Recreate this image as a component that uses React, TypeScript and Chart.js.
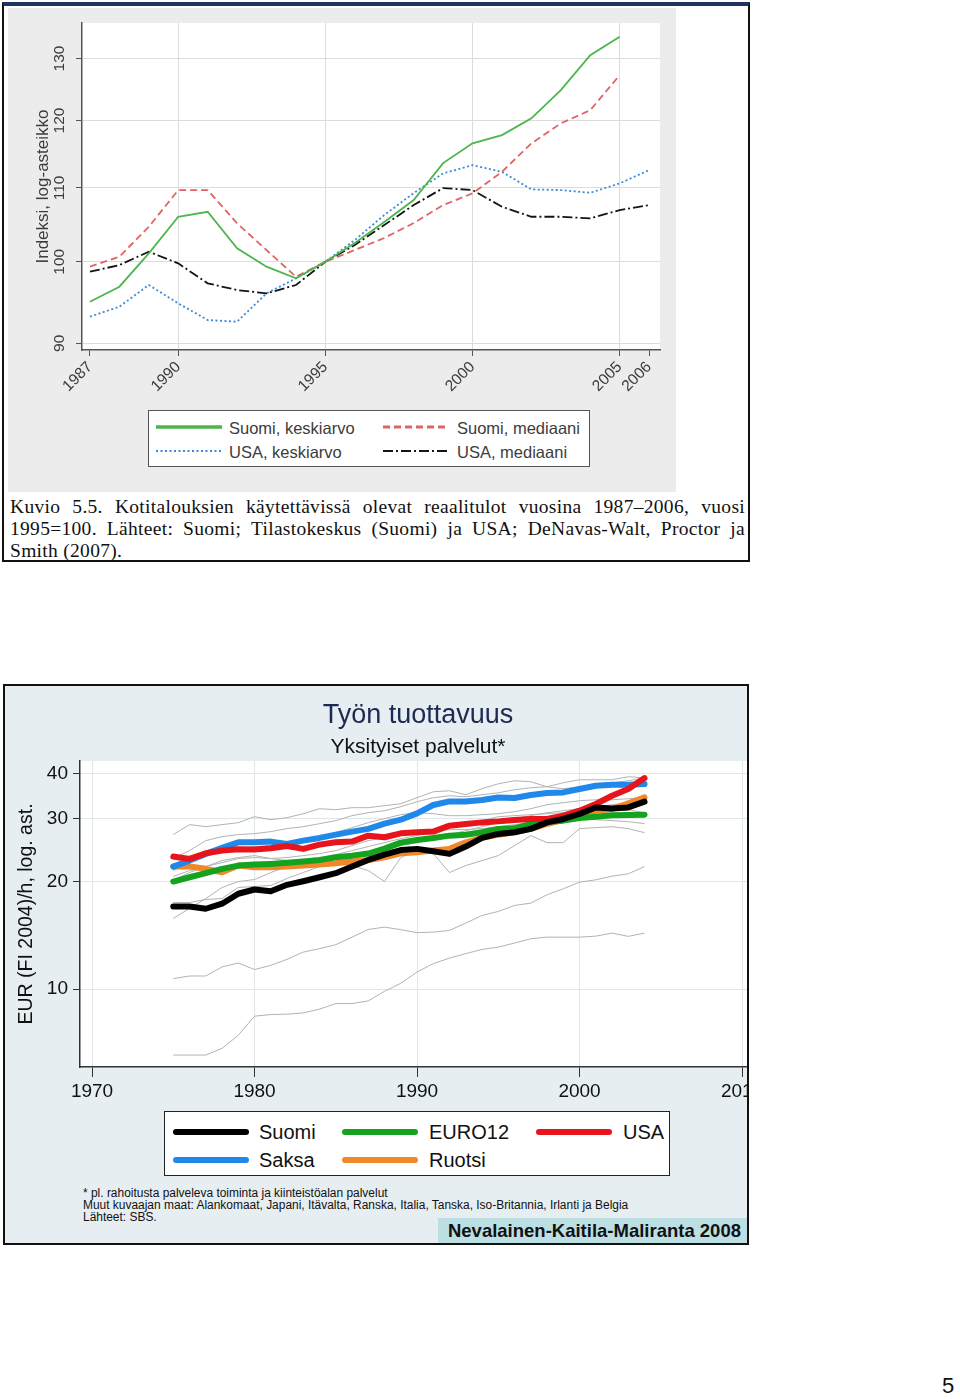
import React, { useEffect, useRef } from 'react';
import { Chart, registerables } from 'chart.js';

Chart.register(...registerables);

const SANS = "'Liberation Sans', Arial, Helvetica, sans-serif";
const SERIF = "'Liberation Serif', 'Times New Roman', Times, serif";
Chart.defaults.font.family = SANS;

/* ---------- Upper chart: Kuvio 5.5 ---------- */
const topYears = [1987, 1988, 1989, 1990, 1991, 1992, 1993, 1994, 1995, 1996, 1997, 1998, 1999, 2000, 2001, 2002, 2003, 2004, 2005, 2006];
const suomiKeskiarvo = [94.97, 96.83, 101.09, 105.98, 106.66, 101.74, 99.36, 97.88, 100, 102.44, 105.26, 108.29, 113.58, 116.51, 117.76, 120.33, 124.8, 130.57, 133.69];
const suomiMediaani = [99.36, 100.65, 104.62, 109.69, 109.69, 105.08, 101.52, 98.08, 100, 101.52, 103.11, 105.12, 107.59, 109.23, 112.31, 116.51, 119.55, 121.62, 127.24];
const usaKeskiarvo = [93.15, 94.36, 97.04, 94.77, 92.75, 92.55, 96.0, 97.88, 100, 102.84, 106.21, 109.27, 112.08, 113.29, 112.31, 109.79, 109.69, 109.31, 110.65, 112.56];
const usaMediaani = [98.72, 99.57, 101.3, 99.79, 97.25, 96.41, 96.0, 97.04, 100, 102.18, 104.85, 107.59, 109.98, 109.69, 107.36, 105.98, 105.98, 105.76, 106.9, 107.59];
const topYTicks = [90, 100, 110, 120, 130];
const topXTicks = [1987, 1990, 1995, 2000, 2005, 2006];
const topLegendLabels = ['Suomi, keskiarvo', 'Suomi, mediaani', 'USA, keskiarvo', 'USA, mediaani'];
const topColors = ['#4cb54c', '#e06464', '#3b8ad6', '#141414'];
const topDashes = [[], [7, 4], [2, 2.5], [10, 3, 2, 3]];
const captionLines = [
  'Kuvio 5.5. Kotitalouksien käytettävissä olevat reaalitulot vuosina 1987–2006, vuosi',
  '1995=100. Lähteet: Suomi; Tilastokeskus (Suomi) ja USA; DeNavas-Walt, Proctor ja',
  'Smith (2007).',
];

/* ---------- Lower chart: Työn tuottavuus ---------- */
const years = [1975, 1976, 1977, 1978, 1979, 1980, 1981, 1982, 1983, 1984, 1985, 1986, 1987, 1988, 1989, 1990, 1991, 1992, 1993, 1994, 1995, 1996, 1997, 1998, 1999, 2000, 2001, 2002, 2003, 2004];
const suomi = [17.03, 17.03, 16.78, 17.33, 18.48, 18.99, 18.78, 19.57, 20.03, 20.55, 21.09, 22.01, 22.97, 23.77, 24.47, 24.66, 24.28, 23.88, 25.03, 26.46, 27.15, 27.44, 28.04, 29.24, 29.89, 30.86, 32.19, 31.99, 32.19, 33.4];
const saksa = [22.01, 22.87, 23.88, 24.81, 25.72, 25.72, 25.84, 25.46, 26.0, 26.46, 27.02, 27.56, 28.04, 29.0, 29.75, 30.98, 32.69, 33.46, 33.46, 33.76, 34.33, 34.2, 34.86, 35.31, 35.45, 36.24, 37.01, 37.24, 37.24, 37.41];
const usa = [23.47, 23.12, 23.97, 24.39, 24.59, 24.55, 24.75, 25.13, 24.66, 25.34, 25.72, 25.84, 26.85, 26.57, 27.26, 27.44, 27.56, 28.63, 28.94, 29.24, 29.43, 29.7, 29.89, 29.89, 30.52, 31.52, 32.91, 34.7, 36.24, 38.88];
const euro12 = [19.99, 20.55, 21.09, 21.69, 22.15, 22.29, 22.39, 22.54, 22.73, 22.97, 23.36, 23.61, 23.93, 24.7, 25.67, 26.12, 26.46, 26.85, 27.02, 27.44, 28.04, 28.15, 28.94, 29.38, 29.57, 30.08, 30.33, 30.59, 30.66, 30.73];
const ruotsi = [22.01, 22.01, 21.69, 21.22, 22.15, 21.91, 21.91, 22.01, 22.15, 22.29, 22.48, 22.73, 22.97, 23.36, 23.97, 24.12, 24.39, 24.66, 25.72, 26.46, 27.02, 27.44, 28.04, 28.94, 29.7, 30.86, 31.52, 31.87, 33.04, 34.33];
// muut kuvaajan maat (harmaat viivat)
const muu1 = [27.03, 28.82, 28.44, 28.82, 29.19, 30.33, 29.75, 30.14, 30.92, 31.93, 31.72, 32.14, 32.14, 32.55, 32.97, 34.26, 35.6, 35.83, 34.93, 36.3, 37.48, 38.21, 37.97, 36.77, 37.72, 38.46, 38.46, 38.46, 39.21, 38.95];
const muu2 = [23.17, 24.39, 26.0, 26.68, 27.03, 27.2, 27.55, 28.09, 28.44, 29.0, 29.57, 30.53, 31.12, 31.52, 32.34, 33.4, 34.26, 34.7, 34.48, 34.93, 35.37, 36.07, 36.53, 36.77, 36.3, 36.77, 37.24, 37.72, 38.21, 38.95];
const muu3 = [21.45, 22.58, 23.62, 24.23, 24.7, 25.02, 25.18, 25.51, 26.17, 26.68, 27.37, 28.27, 29.19, 29.95, 30.73, 31.12, 30.92, 30.53, 30.53, 30.73, 30.92, 31.32, 31.93, 32.76, 33.18, 33.61, 33.82, 33.82, 34.04, 34.26];
const muu4 = [20.65, 21.45, 22.01, 22.58, 23.17, 23.32, 23.17, 23.32, 23.62, 23.92, 24.39, 25.18, 26.0, 26.51, 27.03, 27.37, 27.73, 27.91, 27.91, 28.09, 28.44, 28.82, 29.19, 29.57, 29.95, 29.95, 29.75, 29.57, 29.38, 29.0];
const muu5 = [20.12, 21.18, 22.01, 22.87, 23.32, 23.62, 23.17, 22.87, 22.73, 22.58, 22.44, 22.15, 21.45, 19.99, 23.32, 24.39, 23.92, 21.18, 22.15, 22.87, 23.62, 25.18, 26.85, 25.67, 25.67, 28.09, 28.27, 28.44, 28.09, 27.37];
const muu6 = [15.77, 16.81, 17.92, 19.24, 19.99, 20.25, 21.18, 22.01, 22.58, 23.17, 23.77, 24.39, 25.02, 25.67, 26.34, 26.85, 27.55, 28.27, 28.82, 29.57, 30.33, 30.53, 30.73, 30.92, 31.12, 31.12, 31.32, 31.52, 31.72, 31.12];
const muu7 = [17.47, 17.47, 17.81, 17.92, 19.24, 19.36, 19.49, 20.38, 21.18, 22.01, 22.58, 23.17, 23.77, 24.39, 25.18, 25.67, 26.34, 27.03, 27.73, 28.44, 29.19, 29.95, 30.53, 31.12, 31.52, 31.93, 32.34, 32.76, 33.18, 33.61];
const muu8 = [10.71, 10.89, 10.89, 11.54, 11.84, 11.35, 11.66, 12.12, 12.7, 12.98, 13.32, 13.98, 14.69, 14.91, 14.67, 14.39, 14.44, 14.6, 15.3, 16.07, 16.49, 17.14, 17.4, 18.36, 19.08, 19.91, 20.21, 20.69, 21.01, 22.01];
const muu9 = [6.55, 6.55, 6.55, 6.84, 7.44, 8.41, 8.5, 8.52, 8.59, 8.8, 9.12, 9.12, 9.28, 9.87, 10.39, 11.17, 11.79, 12.22, 12.57, 12.92, 13.11, 13.46, 13.84, 13.98, 13.98, 13.98, 14.07, 14.35, 14.05, 14.35];
const muut = [muu1, muu2, muu3, muu4, muu5, muu6, muu7, muu8, muu9];
const yTicks = [10, 20, 30, 40];
const xTicks = [1970, 1980, 1990, 2000, 2010];
const mainNames = ['Suomi', 'USA', 'Saksa', 'EURO12', 'Ruotsi'];
const mainSeries = [suomi, usa, saksa, euro12, ruotsi];
const mainColors = ['#000000', '#e8141b', '#1f88ea', '#15a31f', '#f0882a'];
const legendRows = [
  ['Suomi', 'EURO12', 'USA'],
  ['Saksa', 'Ruotsi'],
];
const footnotes = [
  '* pl. rahoitusta palveleva toiminta ja kiinteistöalan palvelut',
  'Muut kuvaajan maat: Alankomaat, Japani, Itävalta, Ranska, Italia, Tanska, Iso-Britannia, Irlanti ja Belgia',
  'Lähteet: SBS.',
];

const whiteArea: any = {
  id: 'whiteArea',
  beforeDraw(chart: any) {
    const { ctx, chartArea: a } = chart;
    ctx.save();
    ctx.fillStyle = '#ffffff';
    ctx.fillRect(a.left, a.top, a.right - a.left, a.bottom - a.top);
    ctx.restore();
  },
};

function TopChart() {
  const ref = useRef<HTMLCanvasElement>(null);
  useEffect(() => {
    const series = [suomiKeskiarvo, suomiMediaani, usaKeskiarvo, usaMediaani];
    const chart = new Chart(ref.current as HTMLCanvasElement, {
      type: 'line',
      data: {
        datasets: series.map((vals, k) => ({
          label: topLegendLabels[k],
          data: vals.map((v, i) => ({ x: topYears[i], y: v })),
          borderColor: topColors[k],
          borderWidth: 1.8,
          borderDash: topDashes[k],
          pointRadius: 0,
          tension: 0,
          fill: false,
        })),
      },
      options: {
        animation: false,
        responsive: false,
        maintainAspectRatio: false,
        layout: { padding: { left: 0, right: 18, top: 15, bottom: 0 } },
        plugins: { legend: { display: false }, tooltip: { enabled: false } },
        scales: {
          x: {
            type: 'linear',
            min: 1986.73,
            max: 2006.37,
            afterBuildTicks: (s: any) => { s.ticks = topXTicks.map((v) => ({ value: v })); },
            afterFit: (s: any) => { s.height = 53; },
            ticks: {
              autoSkip: false,
              minRotation: 45,
              maxRotation: 45,
              padding: 2,
              color: '#3c3c3c',
              font: { family: SANS, size: 15.5 },
              callback: (v: any) => String(v),
            },
            grid: {
              color: (c: any) => (c.tick && (c.tick.value === 1987 || c.tick.value === 2006) ? 'rgba(0,0,0,0)' : '#dcdcdc'),
              lineWidth: 1,
              tickColor: '#555',
              tickLength: 6,
            },
            border: { color: '#555', width: 1.5 },
          },
          y: {
            type: 'logarithmic',
            min: 89.23,
            max: 136.1,
            afterBuildTicks: (s: any) => { s.ticks = topYTicks.map((v) => ({ value: v })); },
            afterFit: (s: any) => { s.width = 74; },
            ticks: {
              minRotation: 90,
              maxRotation: 90,
              crossAlign: 'center',
              padding: 3,
              color: '#3c3c3c',
              font: { family: SANS, size: 15.5 },
              callback: (v: any) => String(v),
            },
            title: {
              display: true,
              text: 'Indeksi, log-asteikko',
              color: '#3c3c3c',
              font: { family: SANS, size: 17 },
              padding: { top: 25, bottom: 0 },
            },
            grid: { color: '#dcdcdc', lineWidth: 1, tickColor: '#555', tickLength: 6 },
            border: { color: '#555', width: 1.5 },
          },
        },
      } as any,
      plugins: [whiteArea],
    });
    return () => chart.destroy();
  }, []);
  return (
    <canvas
      ref={ref}
      width={670}
      height={395}
      style={{ position: 'absolute', left: 8, top: 8, width: 670, height: 395 }}
    />
  );
}

function BottomChart() {
  const ref = useRef<HTMLCanvasElement>(null);
  useEffect(() => {
    const pts = (vals: number[]) => vals.map((v, i) => ({ x: years[i], y: v }));
    const main = mainSeries.map((vals, k) => ({
      label: mainNames[k],
      data: pts(vals),
      borderColor: mainColors[k],
      borderWidth: 6,
      borderCapStyle: 'round',
      borderJoinStyle: 'round',
      pointRadius: 0,
      tension: 0,
      fill: false,
    }));
    const others = muut.map((vals, k) => ({
      label: 'muu' + (k + 1),
      data: pts(vals),
      borderColor: '#b3b3b3',
      borderWidth: 1,
      pointRadius: 0,
      tension: 0,
      fill: false,
    }));
    const chart = new Chart(ref.current as HTMLCanvasElement, {
      type: 'line',
      data: { datasets: [...main, ...others] as any },
      options: {
        animation: false,
        responsive: false,
        maintainAspectRatio: false,
        layout: { padding: { left: 0, right: 29, top: 0, bottom: 0 } },
        plugins: {
          legend: { display: false },
          tooltip: { enabled: false },
          title: {
            display: true,
            text: 'Työn tuottavuus',
            fullSize: false,
            color: '#1d2a52',
            font: { family: SANS, size: 27, weight: 'normal' },
            padding: { top: 13, bottom: 1 },
          },
          subtitle: {
            display: true,
            text: 'Yksityiset palvelut*',
            fullSize: false,
            color: '#111111',
            font: { family: SANS, size: 21, weight: 'normal' },
            padding: { top: 2, bottom: 1.4 },
          },
        },
        scales: {
          x: {
            type: 'linear',
            min: 1969.26,
            max: 2010.86,
            afterBuildTicks: (s: any) => { s.ticks = xTicks.map((v) => ({ value: v })); },
            afterFit: (s: any) => { s.height = 39; },
            ticks: {
              autoSkip: false,
              maxRotation: 0,
              padding: 3,
              color: '#111',
              font: { family: SANS, size: 19 },
              callback: (v: any) => String(v),
            },
            grid: { color: '#dfe6ea', lineWidth: 1, tickColor: '#333', tickLength: 10 },
            border: { color: '#333', width: 1.5 },
          },
          y: {
            type: 'logarithmic',
            min: 6.066,
            max: 43.39,
            afterBuildTicks: (s: any) => { s.ticks = yTicks.map((v) => ({ value: v })); },
            afterFit: (s: any) => { s.width = 75; },
            ticks: {
              padding: 5,
              color: '#111',
              font: { family: SANS, size: 19 },
              callback: (v: any) => String(v),
            },
            title: {
              display: true,
              text: 'EUR (FI 2004)/h, log. ast.',
              color: '#111',
              font: { family: SANS, size: 19.5 },
              padding: { top: 10, bottom: 0 },
            },
            grid: { color: '#dfe6ea', lineWidth: 1, tickColor: '#333', tickLength: 7 },
            border: { color: '#333', width: 1.5 },
          },
        },
      } as any,
      plugins: [whiteArea],
    });
    return () => chart.destroy();
  }, []);
  return (
    <canvas
      ref={ref}
      width={780}
      height={420}
      style={{ position: 'absolute', left: 0, top: 0, width: 780, height: 420 }}
    />
  );
}

function LineSample({ color, dash, width, len }: { color: string; dash: number[]; width: number; len: number }) {
  return (
    <svg width={len} height={10} style={{ display: 'block' }}>
      <line x1={0} y1={5} x2={len} y2={5} stroke={color} strokeWidth={width} strokeDasharray={dash.length ? dash.join(' ') : undefined} />
    </svg>
  );
}

function TopLegend() {
  const pos = [
    { sx: 7, lx: 80, cy: 17 },
    { sx: 234, lx: 308, cy: 17 },
    { sx: 7, lx: 80, cy: 41 },
    { sx: 234, lx: 308, cy: 41 },
  ];
  const widths = [3.5, 3, 1.8, 1.8];
  return (
    <div style={{ position: 'absolute', left: 148, top: 410, width: 442, height: 57, boxSizing: 'border-box', border: '1px solid #555', background: '#fff' }}>
      {topLegendLabels.map((lab, k) => (
        <React.Fragment key={lab}>
          <div style={{ position: 'absolute', left: pos[k].sx, top: pos[k].cy - 6 }}>
            <LineSample color={topColors[k]} dash={topDashes[k]} width={widths[k]} len={66} />
          </div>
          <div style={{ position: 'absolute', left: pos[k].lx, top: pos[k].cy - 10, height: 20, lineHeight: '20px', fontFamily: SANS, fontSize: 16.5, color: '#3c3c3c', whiteSpace: 'nowrap' }}>
            {lab}
          </div>
        </React.Fragment>
      ))}
    </div>
  );
}

function BottomLegend() {
  const colX = [[8, 94], [177, 264], [371, 458]];
  const rowY = [20, 48];
  return (
    <div style={{ position: 'absolute', left: 159, top: 425, width: 506, height: 65, boxSizing: 'border-box', border: '1.5px solid #222', background: '#fff' }}>
      {legendRows.map((row, r) =>
        row.map((name, c) => {
          const k = mainNames.indexOf(name);
          return (
            <React.Fragment key={name}>
              <div style={{ position: 'absolute', left: colX[c][0], top: rowY[r] - 3, width: 76, height: 6, borderRadius: 3, background: mainColors[k] }} />
              <div style={{ position: 'absolute', left: colX[c][1], top: rowY[r] - 12, height: 24, lineHeight: '24px', fontFamily: SANS, fontSize: 20, color: '#111', whiteSpace: 'nowrap' }}>
                {name}
              </div>
            </React.Fragment>
          );
        })
      )}
    </div>
  );
}

export default function App() {
  return (
    <div style={{ position: 'absolute', left: 0, top: 0, width: 960, height: 1399, background: '#fff', overflow: 'hidden' }}>
      {/* Upper figure */}
      <div style={{ position: 'absolute', left: 2, top: 2, width: 748, height: 560, boxSizing: 'border-box', borderTop: '4px solid #1e3560', borderLeft: '2px solid #111', borderRight: '2px solid #111', borderBottom: '2px solid #111', background: '#fff' }} />
      <div style={{ position: 'absolute', left: 8, top: 8, width: 668, height: 484, background: '#ececec' }} />
      <TopChart />
      <TopLegend />
      <div style={{ position: 'absolute', left: 10, top: 496, width: 735, fontFamily: SERIF, fontSize: 19.5, letterSpacing: 0.3, color: '#111', lineHeight: '22px' }}>
        {captionLines.map((line, i) => (
          <div key={i} style={{ textAlign: 'justify', textAlignLast: i < 2 ? 'justify' : 'left', whiteSpace: 'nowrap' } as any}>
            {line}
          </div>
        ))}
      </div>

      {/* Lower figure */}
      <div style={{ position: 'absolute', left: 3, top: 684, width: 746, height: 561, boxSizing: 'border-box', border: '2px solid #111', background: '#e6eef2', overflow: 'hidden' }}>
        <BottomChart />
        <BottomLegend />
        <div style={{ position: 'absolute', left: 78, top: 501, fontFamily: SANS, fontSize: 12.5, lineHeight: '12px', color: '#111', whiteSpace: 'nowrap', transform: 'scaleX(0.955)', transformOrigin: '0 0' }}>
          {footnotes.map((f, i) => (
            <div key={i}>{f}</div>
          ))}
        </div>
        <div style={{ position: 'absolute', left: 433, top: 532, width: 309, height: 25, background: '#bcdfe4', boxSizing: 'border-box', paddingRight: 6, textAlign: 'right', fontFamily: SANS, fontWeight: 'bold', fontSize: 18.5, lineHeight: '25px', color: '#111', whiteSpace: 'nowrap' }}>
          Nevalainen-Kaitila-Maliranta 2008
        </div>
      </div>

      <div style={{ position: 'absolute', left: 942, top: 1373, fontFamily: SANS, fontSize: 22, color: '#111', lineHeight: '26px' }}>5</div>
    </div>
  );
}
